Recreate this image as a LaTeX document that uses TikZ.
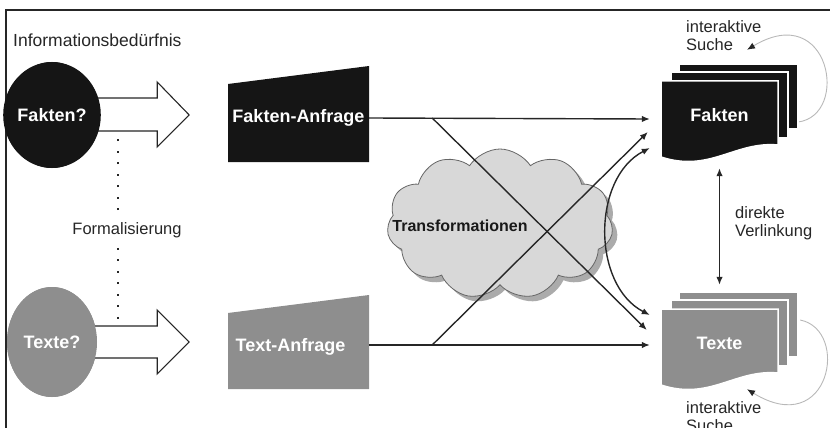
\documentclass[tikz,border=0pt]{standalone}
\usepackage{fontspec}
\setmainfont{Liberation Sans}
\usetikzlibrary{arrows.meta,shapes.geometric,shapes.symbols,shadows}

\definecolor{factblack}{HTML}{151515}
\definecolor{textgray}{HTML}{8E8E8E}
\definecolor{cloudfill}{HTML}{D8D8D8}
\definecolor{cloudshade}{HTML}{ABABAB}
\definecolor{linedark}{HTML}{262626}
\definecolor{loopgray}{HTML}{B8B8B8}

% stack of three documents; #1 fill colour, #2 top edge of the front sheet
\newcommand\docstack[2]{%
  \filldraw[fill=#1, draw=white, line width=1.5pt] (679,#2-17) rectangle (798,#2+48);
  \filldraw[fill=#1, draw=white, line width=1.5pt] (671,#2-9) rectangle (788,#2+57);
  \filldraw[fill=#1, draw=white, line width=1.5pt] (661,#2) -- (778,#2) -- (778,#2+64)
    .. controls (735,#2+60) and (710,#2+92) .. (661,#2+76) -- cycle;}

\begin{document}
\begin{tikzpicture}[x=1pt, y=-1pt,
  lbl/.style={font=\fontsize{16.5}{18}\selectfont, text=black!85, inner sep=0pt},
  bold/.style={font=\fontsize{18}{20}\selectfont\bfseries, text=white, inner sep=0pt},
  need/.style={ellipse, minimum width=90pt, inner sep=0pt, fill=#1, bold},
  query/.style={rectangle, minimum width=141pt, inner sep=0pt,
    path picture={\fill[#1] (path picture bounding box.south west)
      -- (path picture bounding box.south east)
      -- (path picture bounding box.north east)
      -- ([yshift=-18pt]path picture bounding box.north west) -- cycle;}},
  docbox/.style={rectangle, minimum width=117pt, inner sep=0pt},
  blockarrow/.style={draw=linedark, line width=1.1pt, fill=white, line join=miter},
  conn/.style={draw=linedark, line width=1.4pt, -{Latex[length=8pt,width=6.5pt]}},
  dconn/.style={draw=linedark, line width=1.4pt, {Latex[length=8pt,width=6.5pt]}-{Latex[length=8pt,width=6.5pt]}},
  loop/.style={draw=loopgray, line width=0.9pt, -{Latex[length=8pt,width=6.5pt,color=linedark]}},
  dotline/.style={draw=linedark, line width=1.8pt, dash pattern=on 1.8pt off 9.7pt}]

\useasboundingbox (0,0) rectangle (830,428);

% open frame on the left and top
\draw[linedark, line width=1.3pt] (6,430) -- (6,10) -- (832,10);

% information needs
\node[lbl, anchor=west] (need) at (13,40) {\fontsize{17.5}{19}\selectfont Informationsbedürfnis};
\node[need=factblack, minimum height=106pt] (fq) at (52,115) {};
\node[need=textgray, minimum height=110pt] (tq) at (52,342) {};

% block arrows towards the queries
\draw[blockarrow] ([shift={(-3,-17)}]fq.east) -- ++(63,0) -- ++(0,-16) -- ++(32,33)
  -- ++(-32,32) -- ++(0,-16) -- ++(-63,0);
\draw[blockarrow] ([shift={(-3,-16)}]tq.east) -- ++(63,0) -- ++(0,-16) -- ++(32,32)
  -- ++(-32,32) -- ++(0,-16) -- ++(-63,0);
\node[need=factblack, minimum height=106pt] at (fq) {Fakten?};
\node[need=textgray, minimum height=110pt] at (tq) {Texte?};

% formalisation
\node[lbl] (fm) at (127,230) {Formalisierung};
\draw[dotline] ([xshift=-9pt,yshift=12pt]fm.north) -- ++(0,-80);
\draw[dotline] ([xshift=-9pt,yshift=-10pt]fm.south) -- ++(0,76);

% queries
\node[query=factblack, minimum height=96pt,
  label={[bold, yshift=-4pt]center:Fakten-Anfrage}] (fa) at (298.5,114) {};
\node[query=textgray, minimum height=94pt,
  label={[bold, yshift=-5pt, xshift=-8pt]center:Text-Anfrage}] (ta) at (298.5,342) {};

% transformation cloud
\node[cloud, cloud puffs=11, cloud puff arc=115, aspect=1.5,
  minimum width=226pt, minimum height=150pt, inner sep=0pt,
  fill=cloudfill, draw=black!60, line width=0.8pt,
  drop shadow={shadow xshift=5pt, shadow yshift=-5pt, fill=cloudshade, opacity=1}]
  (cl) at (500,224) {};
\node[font=\fontsize{16}{18}\selectfont\bfseries, text=black!90, inner sep=0pt]
  (tf) at (460,226) {Transformationen};

% result collections
\node[docbox, minimum height=76pt] (fk) at (719.5,119) {};
\node[docbox, minimum height=79pt] (tx) at (719.5,348.5) {};

% interactive search loops
\draw[loop] ([xshift=20pt,yshift=-3pt]fk.east) .. controls +(52,-7) and +(83,-50)
  .. ([xshift=27.5pt,yshift=31pt]fk.north);
\draw[loop] ([xshift=22pt,yshift=28.5pt]tx.east) .. controls +(50,10) and +(83,51)
  .. ([xshift=27.5pt,yshift=-1pt]tx.south);

\docstack{factblack}{81}
\docstack{textgray}{309}
\node[bold] at ([yshift=4pt]fk.center) {Fakten};
\node[bold] at ([yshift=5.5pt]tx.center) {Texte};

% connectors from the queries to the collections
\draw[conn] ([yshift=-4pt]fa.east) -- ([xshift=-11pt]fk.west);
\draw[conn] ([xshift=63pt,yshift=-4pt]fa.east) -- ([xshift=-14pt,yshift=18.5pt]tx.west);
\draw[conn] ([yshift=-3pt]ta.east) -- ([xshift=-11pt,yshift=3.5pt]tx.west);
\draw[conn] ([xshift=63pt,yshift=-3pt]ta.east) -- ([xshift=-13pt,yshift=-13pt]fk.west);
\draw[dconn] ([xshift=-11pt,yshift=-29pt]fk.west) .. controls +(-58,30) and +(-58,-30)
  .. ([xshift=-11pt,yshift=33.5pt]tx.west);

% direct linking
\draw[dconn] ([yshift=-11pt]fk.south) -- ([yshift=24pt]tx.north);
\node[lbl, anchor=west, align=left] (dv) at (735,223) {direkte\\Verlinkung};

% loop labels
\node[lbl, anchor=west, align=left] (is1) at (686,36) {interaktive\\Suche};
\node[lbl, anchor=north west, align=left] (is2) at (686,401) {interaktive\\Suche};

\end{tikzpicture}
\end{document}
